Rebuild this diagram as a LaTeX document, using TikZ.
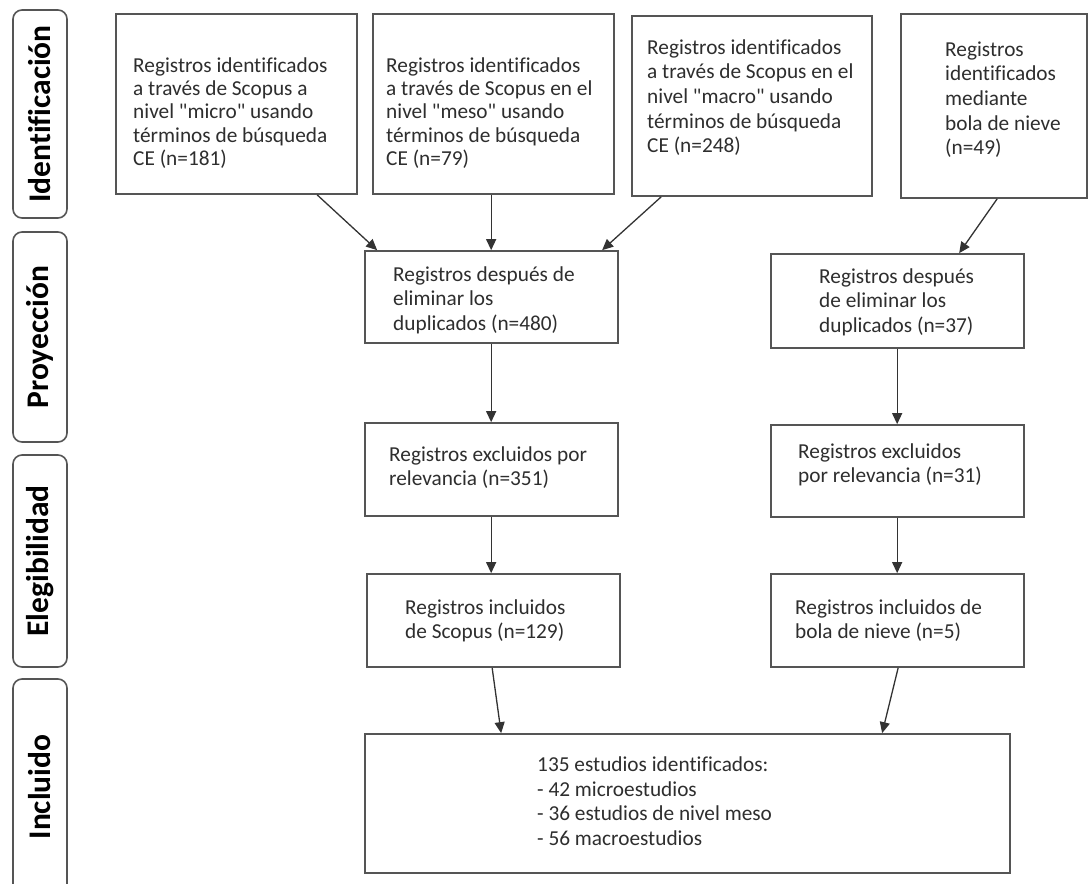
\documentclass[tikz,border=0pt]{standalone}
\usepackage{fontspec}
\setmainfont{Carlito}[Ligatures={TeXOff,NoCommon}]
\usetikzlibrary{arrows.meta,calc}
\definecolor{bordc}{HTML}{555555}
\definecolor{linec}{HTML}{333333}
\definecolor{txtc}{HTML}{2E2E2E}
\tikzset{
  box/.style={draw=bordc, line width=1.7pt, rectangle, inner sep=0pt, fill=white},
  txt/.style={anchor=north west, inner sep=0pt, align=left, text=txtc,
    font=\fontsize{21.3}{24.4}\selectfont},
  lab/.style={draw=bordc, line width=1.6pt, rounded corners=9pt, rectangle, inner sep=0pt,
    rotate=90, minimum height=54pt, font=\fontsize{31.5}{33}\selectfont\bfseries},
  arr/.style={draw=linec, line width=1.3pt, -{Triangle[length=11pt,width=10pt]}}
}
\newcommand{\fl}{\rule{0pt}{15pt}}
\begin{document}
\begin{tikzpicture}[x=1pt,y=-1pt]
\useasboundingbox (0,0) rectangle (1089,883);
\clip (0,0) rectangle (1089,883);
% side labels
\node[lab, minimum width=208pt] (l1) at (40,114) {Identificación};
\node[lab, minimum width=210pt] (l2) at (40,337) {Proyección};
\node[lab, minimum width=212pt] (l3) at (40,561) {Elegibilidad};
\node[lab, minimum width=216pt] (l4) at (40,787) {Incluido};
% top row
\node[box, minimum width=241pt, minimum height=180pt] (b1) at (236.5,104) {};
\node[box, minimum width=241pt, minimum height=180pt] (b2) at (493.5,104) {};
\node[box, minimum width=240pt, minimum height=180pt] (b3) at (752,106) {};
\node[box, minimum width=186pt, minimum height=184pt] (b4) at (994,106) {};
\node[txt, font=\fontsize{21.3}{23.3}\selectfont] (t1) at (133,57) {\fl Registros identificados\\a través de Scopus a\\nivel "micro" usando\\términos de búsqueda\\CE (n=181)};
\node[txt, font=\fontsize{21.3}{23.3}\selectfont] (t2) at (386,57) {\fl Registros identificados\\a través de Scopus en el\\nivel "meso" usando\\términos de búsqueda\\CE (n=79)};
\node[txt, font=\fontsize{21.3}{24.6}\selectfont] (t3) at (647,39) {\fl Registros identificados\\a través de Scopus en el\\nivel "macro" usando\\términos de búsqueda\\CE (n=248)};
\node[txt, font=\fontsize{21.3}{24.6}\selectfont] (t4) at (945,41) {\fl Registros\\identificados\\mediante\\bola de nieve\\(n=49)};
% second row
\node[box, minimum width=253pt, minimum height=92pt] (m1) at (491.5,297) {};
\node[box, minimum width=253pt, minimum height=94pt] (m2) at (897.5,301) {};
\node[txt] (tm1) at (393,266) {\fl Registros después de\\eliminar los\\duplicados (n=480)};
\node[txt] (tm2) at (819,268) {\fl Registros después\\de eliminar los\\duplicados (n=37)};
% third row
\node[box, minimum width=253pt, minimum height=93pt] (e1) at (491.5,469.5) {};
\node[box, minimum width=253pt, minimum height=92pt] (e2) at (897.5,471) {};
\node[txt] (te1) at (389,446) {\fl Registros excluidos por\\relevancia (n=351)};
\node[txt] (te2) at (798,443) {\fl Registros excluidos\\por relevancia (n=31)};
% fourth row
\node[box, minimum width=253pt, minimum height=93pt] (i1) at (493.5,620.5) {};
\node[box, minimum width=253pt, minimum height=93pt] (i2) at (897.5,620.5) {};
\node[txt] (ti1) at (405,599) {\fl Registros incluidos\\de Scopus (n=129)};
\node[txt] (ti2) at (795,599) {\fl Registros incluidos de\\bola de nieve (n=5)};
% final
\node[box, minimum width=645pt, minimum height=139pt] (f) at (687.5,803.5) {};
\node[txt, font=\fontsize{21.3}{24.8}\selectfont] (tf) at (537,756) {\fl 135 estudios identificados:\\- 42 microestudios\\- 36 estudios de nivel meso\\- 56 macroestudios};
% arrows
\draw[arr] ($(b1.south west)+(202,0)$) -- ($(m1.north west)+(13,0)$);
\draw[arr] ($(b2.south west)+(119,0)$) -- ($(m1.north west)+(127,0)$);
\draw[arr] ($(b3.south west)+(30,0)$) -- ($(m1.north west)+(238,0)$);
\draw[arr] ($(b4.south west)+(97,0)$) -- ($(m2.north west)+(189,0)$);
\draw[arr] ($(m1.south west)+(127,0)$) -- ($(e1.north west)+(127,0)$);
\draw[arr] ($(m2.south west)+(127,0)$) -- ($(e2.north west)+(127,0)$);
\draw[arr] ($(e1.south west)+(127,0)$) -- ($(i1.north west)+(125,0)$);
\draw[arr] ($(e2.south west)+(127,0)$) -- ($(i2.north west)+(127,0)$);
\draw[arr] ($(i1.south west)+(126,0)$) -- ($(f.north west)+(137,0)$);
\draw[arr] ($(i2.south west)+(128,0)$) -- ($(f.north west)+(518,0)$);
\end{tikzpicture}
\end{document}
